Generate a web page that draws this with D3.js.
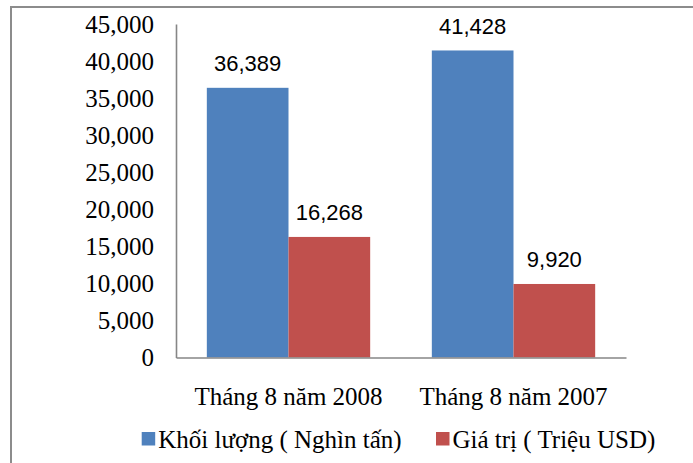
<!DOCTYPE html>
<html lang="vi">
<head>
  <meta charset="UTF-8">
  <title>Bar Chart</title>
  <script src="https://d3js.org/d3.v7.min.js"></script>
  <style>
    body { margin: 0; background: #fff; }
    svg { display: block; }
    .serif { font-family: "Liberation Serif", Tinos, "Times New Roman", Times, "DejaVu Serif", serif; }
    .sans { font-family: "Liberation Sans", Arimo, Arial, sans-serif; }
  </style>
</head>
<body>
  <div id="canvas"></div>
  <script>
    const categories = ['Tháng 8 năm 2008', 'Tháng 8 năm 2007'];
    const seriesNames = ['Khối lượng ( Nghìn tấn)', 'Giá trị ( Triệu USD)'];
    const khoiLuong = [36389, 41428];
    const giaTri = [16268, 9920];
    const yTicks = [0, 5000, 10000, 15000, 20000, 25000, 30000, 35000, 40000, 45000];
    const colors = ['#4F81BD', '#C0504D'];

    const width = 693;
    const height = 463;
    const plotLeft = 176;
    const plotRight = 626;
    const plotTop = 24;
    const plotBottom = 357.5;

    const rows = categories.map((c, i) => ({ cat: c, values: [khoiLuong[i], giaTri[i]] }));

    const svg = d3.select('#canvas')
      .append('svg')
      .attr('width', width)
      .attr('height', height);

    // outer frame, runs past the right and bottom edges like the original
    svg.append('rect')
      .attr('x', 11)
      .attr('y', 7)
      .attr('width', 720)
      .attr('height', 500)
      .attr('fill', 'none')
      .attr('stroke', '#8c8c8c')
      .attr('stroke-width', 2);

    const scaleX = d3.scaleBand()
      .domain(categories)
      .range([plotLeft, plotRight])
      .paddingInner(0.274)
      .paddingOuter(0.137);

    const scaleSeries = d3.scaleBand()
      .domain([0, 1])
      .range([0, scaleX.bandwidth()]);

    const scaleY = d3.scaleLinear()
      .domain([0, 45000])
      .range([plotBottom, plotTop]);

    const groups = svg.selectAll('g.group')
      .data(rows)
      .enter()
      .append('g')
      .attr('class', 'group')
      .attr('transform', d => 'translate(' + scaleX(d.cat) + ',0)');

    groups.selectAll('rect')
      .data(d => d.values)
      .enter()
      .append('rect')
      .attr('x', (d, i) => scaleSeries(i))
      .attr('y', d => scaleY(d))
      .attr('width', scaleSeries.bandwidth())
      .attr('height', d => plotBottom - scaleY(d))
      .attr('fill', (d, i) => colors[i]);

    groups.selectAll('text.label')
      .data(d => d.values)
      .enter()
      .append('text')
      .attr('class', 'label sans')
      .attr('x', (d, i) => scaleSeries(i) + scaleSeries.bandwidth() / 2)
      .attr('y', d => scaleY(d) - 16.5)
      .attr('text-anchor', 'middle')
      .attr('font-size', 22)
      .attr('fill', '#000')
      .text(d => d3.format(',')(d));

    const yAxis = d3.axisLeft(scaleY)
      .tickValues(yTicks)
      .tickFormat(d3.format(','))
      .tickSize(0)
      .tickPadding(22)
      .tickSizeOuter(0);

    const gy = svg.append('g')
      .attr('id', 'y-axis')
      .attr('transform', 'translate(' + plotLeft + ',0)')
      .call(yAxis)
      .attr('font-family', null)
      .attr('font-size', null)
      .attr('class', 'serif');
    gy.select('.domain').attr('stroke', '#868686').attr('stroke-width', 1.6);
    gy.selectAll('text')
      .attr('font-size', 25)
      .attr('fill', '#000');

    const xAxis = d3.axisBottom(scaleX).tickSize(0).tickSizeOuter(0);
    const gx = svg.append('g')
      .attr('id', 'x-axis')
      .attr('transform', 'translate(0,' + plotBottom + ')')
      .call(xAxis)
      .attr('font-family', null)
      .attr('font-size', null)
      .attr('class', 'serif');
    gx.select('.domain').attr('stroke', '#868686').attr('stroke-width', 1.6);
    gx.selectAll('text')
      .attr('y', 47)
      .attr('dy', 0)
      .attr('font-size', 25)
      .attr('fill', '#000');

    // legend
    const legendX = [141.7, 436];
    const legend = svg.selectAll('g.legend')
      .data(seriesNames)
      .enter()
      .append('g')
      .attr('class', 'legend')
      .attr('transform', (d, i) => 'translate(' + legendX[i] + ',432)');
    legend.append('rect')
      .attr('width', 13.5)
      .attr('height', 13.5)
      .attr('fill', (d, i) => colors[i]);
    legend.append('text')
      .attr('class', 'serif')
      .attr('x', 16.5)
      .attr('y', 15.7)
      .attr('font-size', 25)
      .attr('fill', '#000')
      .text(d => d);
  </script>
</body>
</html>
